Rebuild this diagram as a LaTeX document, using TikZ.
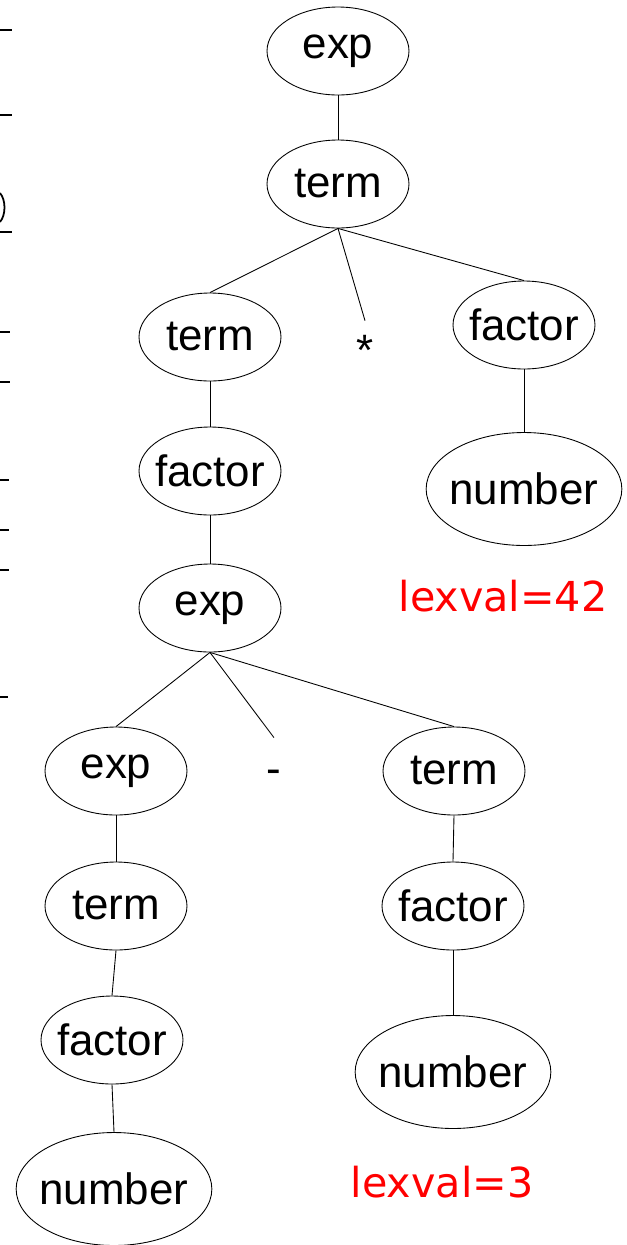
\documentclass[tikz,border=0pt]{standalone}
\usepackage{fontspec}
\setmainfont{Liberation Sans}
\newfontfamily\lexfont{DejaVu Sans}
\usetikzlibrary{shapes.geometric}

\begin{document}
\begin{tikzpicture}[x=0.02cm, y=-0.02cm,
        nt/.style={draw, ellipse, line width=0.5pt, inner xsep=-3pt, inner ysep=0pt,
            minimum width=2.84cm, minimum height=1.76cm, font=\fontsize{25}{30}\selectfont},
        ntbig/.style={nt, minimum width=3.72cm, minimum height=2.26cm},
        tok/.style={inner sep=0pt, font=\fontsize{25}{30}\selectfont},
        lexval/.style={text=red, font=\lexfont\fontsize{23.5}{28}\selectfont},
        link/.style={line width=0.5pt}]
            \useasboundingbox (0,0) rectangle (626,1245);

            % edge of the slide
            \draw[line width=1.5pt] (0,30) -- (12,30);
            \draw[line width=1pt] (0,115) -- (12,115);
            \draw[line width=1pt] (0,193) .. controls (6,200) and (6,215) .. (0,222);
            \draw[line width=1pt] (0,232) -- (12,232);
            \draw[line width=1pt] (0,332) -- (10,332);
            \draw[line width=1pt] (0,382) -- (10,382);
            \draw[line width=1pt] (0,480) -- (9,480);
            \draw[line width=1pt] (0,530) -- (9,530);
            \draw[line width=1pt] (0,570) -- (9,570);
            \draw[line width=1.5pt] (0,697) -- (8,697);

            % top
            \node[nt] (exp0) at (338,51) {exp};
            \node[nt] (term0) at (338,184) {term};
            \draw[link] (exp0.south) -- (term0.north);

            % term * factor
            \node[nt] (term1) at (210,337) {term};
            \node[tok, minimum height=1.16cm] (star) at (365,350) {*};
            \node[nt] (factor0) at (524,325) {factor};
            \draw[link] (term0.south) -- (term1.north);
            \draw[link] (term0.south) -- (star.north);
            \draw[link] (term0.south) -- (factor0.north);

            % right operand
            \node[ntbig] (number0) at (524,489) {number};
            \node[lexval] (lex42) at (503,596) {lexval=42};
            \draw[link] (factor0.south) -- (number0.north);

            % left operand
            \node[nt] (factor1) at (210,471) {factor};
            \node[nt] (exp1) at (210,608) {exp};
            \draw[link] (term1.south) -- (factor1.north);
            \draw[link] (factor1.south) -- (exp1.north);

            % exp - term
            \node[nt] (exp2) at (116,771) {exp};
            \node[tok, minimum height=1.56cm] (dash) at (274,777) {-};
            \node[nt] (term2) at (454,771) {term};
            \draw[link] (exp1.south) -- (exp2.north);
            \draw[link] (exp1.south) -- (dash.north);
            \draw[link] (exp1.south) -- (term2.north);

            % exp chain
            \node[nt] (term3) at (116,906) {term};
            \node[nt] (factor3) at (112,1040) {factor};
            \node[ntbig] (number2) at (114,1189) {number};
            \draw[link] (exp2.south) -- (term3.north);
            \draw[link] (term3.south) -- (factor3.north);
            \draw[link] (factor3.south) -- (number2.north);

            % term chain
            \node[nt] (factor2) at (453,906) {factor};
            \node[ntbig] (number1) at (453,1072) {number};
            \node[lexval] (lex3) at (442,1182) {lexval=3};
            \draw[link] (term2.south) -- (factor2.north);
            \draw[link] (factor2.south) -- (number1.north);

        \end{tikzpicture}
\end{document}
